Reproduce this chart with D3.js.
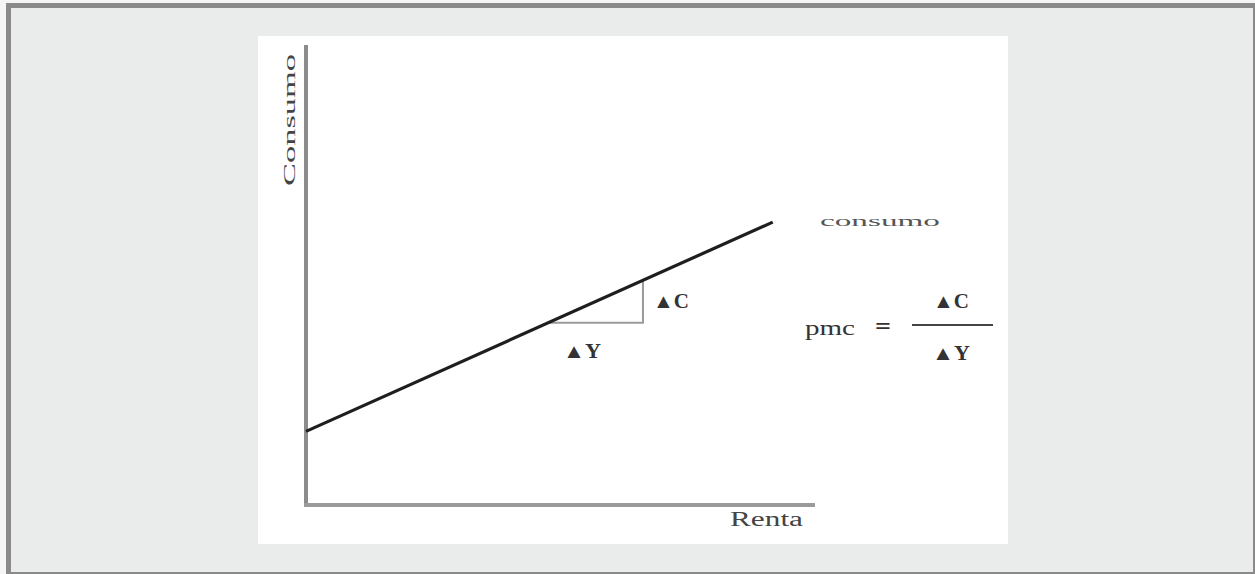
<!DOCTYPE html>
<html><head><meta charset="utf-8">
<script src="https://cdn.jsdelivr.net/npm/d3@7"></script>
<style>html,body{margin:0;padding:0;background:#ffffff;}svg{display:block;}</style>
</head><body>
<svg id="c" width="1255" height="574"></svg>
<script>
// Data (abstract units)
const xDomain = [0, 10];
const yDomain = [0, 10];
const consumoLine = [{x: 0, y: 1.6}, {x: 9.17, y: 6.15}];
const triangle = [{x: 4.76, y: 3.96}, {x: 6.62, y: 3.96}, {x: 6.62, y: 4.88}];
const labels = {yAxis: "Consumo", xAxis: "Renta", line: "consumo", dC: "\u25B2C", dY: "\u25B2Y", pmc: "pmc", eq: "="};

const svg = d3.select("#c");
// frame
svg.append("rect").attr("x", 0).attr("y", 0).attr("width", 1255).attr("height", 574).attr("fill", "#f4f5f4");
svg.append("rect").attr("x", 6).attr("y", 3).attr("width", 1249).attr("height", 571).attr("fill", "#8a8a8a");
svg.append("rect").attr("x", 11).attr("y", 8).attr("width", 1242).attr("height", 564).attr("fill", "#eaeceb");
// white panel
svg.append("rect").attr("x", 258).attr("y", 36).attr("width", 750).attr("height", 508).attr("fill", "#ffffff");

const x = d3.scaleLinear().domain(xDomain).range([306, 815]);
const y = d3.scaleLinear().domain(yDomain).range([505, 45]);

// axes
svg.append("line").attr("x1", x(0)).attr("y1", y(10)).attr("x2", x(0)).attr("y2", y(0))
  .attr("stroke", "#8c8c8c").attr("stroke-width", 4);
svg.append("line").attr("x1", x(0) - 2).attr("y1", y(0)).attr("x2", x(10)).attr("y2", y(0))
  .attr("stroke", "#9a9a9a").attr("stroke-width", 4);

// triangle legs
svg.append("path").attr("d", d3.line().x(d => x(d.x)).y(d => y(d.y))(triangle))
  .attr("fill", "none").attr("stroke", "#9a9a9a").attr("stroke-width", 2);

// consumption line
svg.append("path").attr("d", d3.line().x(d => x(d.x)).y(d => y(d.y))(consumoLine))
  .attr("fill", "none").attr("stroke", "#1e1e1e").attr("stroke-width", 3.2);

const serif = "'Liberation Serif', 'DejaVu Serif', serif";
function txt(t, px, py, size, opts = {}) {
  const e = svg.append("text").attr("x", px).attr("y", py).text(t)
    .attr("font-family", serif).attr("font-size", size).attr("fill", opts.fill || "#333")
    .attr("font-weight", opts.weight || "bold");
  if (opts.len) e.attr("textLength", opts.len).attr("lengthAdjust", "spacingAndGlyphs");
  if (opts.anchor) e.attr("text-anchor", opts.anchor);
  return e;
}

// y axis label (rotated)
svg.append("text").attr("transform", "translate(295,186) rotate(-90)")
  .text(labels.yAxis).attr("font-family", serif).attr("font-size", 17).attr("fill", "#444")
  .attr("textLength", 132).attr("lengthAdjust", "spacingAndGlyphs");

// x axis label
txt(labels.xAxis, 730, 526, 20, {fill: "#444", len: 73, weight: "normal"});

// line label
txt(labels.line, 820, 226, 15, {fill: "#555", len: 120, weight: "normal"});

// delta labels
txt(labels.dC, 653, 308, 20, {fill: "#333", len: 36});
txt(labels.dY, 563, 358, 20, {fill: "#333", len: 38});

// pmc formula
txt(labels.pmc, 805, 335, 20, {fill: "#333", len: 50, weight: "normal"});
txt(labels.eq, 875, 334, 24, {fill: "#333", len: 16});
svg.append("line").attr("x1", 912).attr("x2", 993).attr("y1", 325).attr("y2", 325)
  .attr("stroke", "#444").attr("stroke-width", 2);
txt(labels.dC, 933, 308, 20, {fill: "#333", len: 36});
txt(labels.dY, 932, 360, 20, {fill: "#333", len: 38});
</script>
</body></html>
